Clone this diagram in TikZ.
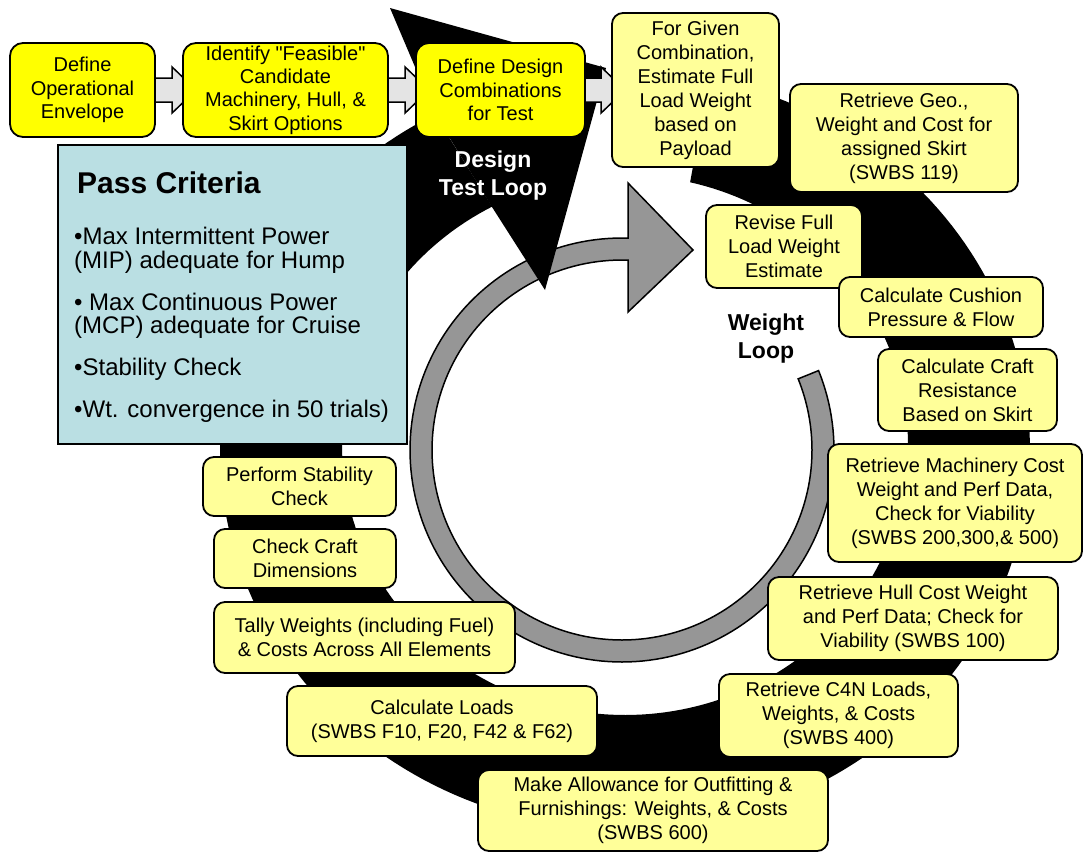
\documentclass[tikz,border=0pt]{standalone}
\usepackage{fontspec}
\setmainfont{Liberation Sans}[Ligatures=TeXOff]
\usetikzlibrary{calc}

\definecolor{brightyellow}{HTML}{FFFF00}
\definecolor{paleyellow}{HTML}{FFFF99}
\definecolor{critblue}{HTML}{BADFE3}
\definecolor{loopgray}{HTML}{969696}
\definecolor{linkgray}{HTML}{E4E4E4}

\pgfdeclarelayer{rings}
\pgfdeclarelayer{links}
\pgfsetlayers{rings,links,main}

\tikzset{
  box/.style={draw=black, line width=1.8pt, rounded corners=11pt, fill=paleyellow,
    align=center, inner sep=0pt, font=\fontsize{20}{24}\selectfont},
  topbox/.style={box, fill=brightyellow, rounded corners=13pt, font=\fontsize{20}{23.3}\selectfont},
  critbox/.style={draw=black, line width=1.8pt, fill=critblue, inner sep=0pt},
  critline/.style={anchor=base west, inner sep=0pt, font=\fontsize{24}{24}\selectfont},
  crittitle/.style={anchor=base west, inner sep=0pt, font=\fontsize{30}{30}\selectfont\bfseries},
  looplabel/.style={anchor=base, inner sep=0pt, font=\fontsize{23}{28}\selectfont\bfseries},
  link/.style={fill=linkgray, draw=black, line width=1.5pt},
}

% block arrow from the east side of one box into the west side of the next
\newcommand\linkarrow[2]{%
  \filldraw[link] ($(#1.east)+(-6,-12)$) -- ($(#2.west)+(-10,-12)$)
    -- ($(#2.west)+(-10,-23)$) -- ($(#2.west)+(14,0)$) -- ($(#2.west)+(-10,23)$)
    -- ($(#2.west)+(-10,12)$) -- ($(#1.east)+(-6,12)$) -- cycle;}

\begin{document}
\begin{tikzpicture}[x=1pt,y=-1pt]
\useasboundingbox (0,0) rectangle (1083,852);

\begin{pgfonlayer}{rings}
  \fill[white] (0,0) rectangle (1083,852);
  % inner grey weight loop with its arrow
  \filldraw[fill=loopgray, draw=black, line width=1.5pt]
    plot[domain=22:-270, samples=160] ({622+212*cos(\x)},{450-212*sin(\x)})
    -- (628,238) -- (628,183) -- (693,250) -- (628,312) -- (628,260)
    -- plot[domain=-270:22, samples=160] ({622+190*cos(\x)},{450-190*sin(\x)})
    -- cycle;
  % outer black design test loop
  \fill[black]
    plot[domain=78:-242, samples=200] ({625+405*cos(\x)},{450-380*sin(\x)})
    -- plot[domain=-242:76.7, samples=200] ({625+283*cos(\x)},{445-270*sin(\x)})
    -- cycle;
  \fill[black] (390,8) -- (606,68) -- (545,290) -- (492,207) -- (435,114) -- cycle;
\end{pgfonlayer}

% loop labels
\node[looplabel, text=white] (dtl1) at (493,167) {Design};
\node[looplabel, text=white] (dtl2) at (493,195) {Test Loop};
\node[looplabel] (wl1) at (766,330) {Weight};
\node[looplabel] (wl2) at (766,358) {Loop};

% top row
\node[topbox, minimum width=145pt, minimum height=94pt] (defop) at (82.5,90) {Define\\Operational\\Envelope};
\node[topbox, minimum width=205pt, minimum height=94pt] (ident) at (285.5,90) {Identify "Feasible"\\Candidate\\Machinery, Hull, \&\\Skirt Options};
\node[topbox, minimum width=169pt, minimum height=94pt] (defdes) at (500.5,90) {Define Design\\Combinations\\for Test};

% pass criteria
\node[critbox, minimum width=349pt, minimum height=299pt] (crit) at (232.5,294.5) {};
\node[crittitle] (ct) at (77,193) {Pass Criteria};
\node[critline] (c1a) at (74,244) {•Max Intermittent Power};
\node[critline] (c1b) at (74,268) {(MIP) adequate for Hump};
\node[critline] (c2a) at (74,310) {• Max Continuous Power};
\node[critline] (c2b) at (74,333) {(MCP) adequate for Cruise};
\node[critline] (c3) at (74,375) {•Stability Check};
\node[critline] (c4) at (74,417) {•Wt. convergence in 50 trials)};

% weight loop steps
\node[box, minimum width=167pt, minimum height=154pt] (payload) at (695.5,90) {For Given\\Combination,\\Estimate Full\\Load Weight\\based on\\Payload};
\node[box, minimum width=228pt, minimum height=108pt] (geo) at (904,138) {Retrieve Geo.,\\Weight and Cost for\\assigned Skirt\\(SWBS 119)};
\node[box, minimum width=156pt, minimum height=83pt] (revise) at (784,246.5) {Revise Full\\Load Weight\\Estimate};
\node[box, minimum width=204pt, minimum height=60pt] (cushion) at (941,307) {Calculate Cushion\\Pressure \& Flow};
\node[box, minimum width=179pt, minimum height=82pt] (craft) at (967.5,390) {Calculate Craft\\Resistance\\Based on Skirt};
\node[box, minimum width=254pt, minimum height=118pt] (mach) at (955,503) {Retrieve Machinery Cost\\Weight and Perf Data,\\Check for Viability\\(SWBS 200,300,\& 500)};
\node[box, minimum width=290pt, minimum height=83pt] (hull) at (913,618.5) {Retrieve Hull Cost Weight\\and Perf Data; Check for\\Viability (SWBS 100)};
\node[box, minimum width=239pt, minimum height=83pt] (c4n) at (838.5,715.5) {Retrieve C4N Loads,\\Weights, \& Costs\\(SWBS 400)};
\node[box, minimum width=350pt, minimum height=81pt] (outfit) at (653,810.5) {Make Allowance for Outfitting \&\\Furnishings: Weights, \& Costs\\(SWBS 600)};
\node[box, minimum width=310pt, minimum height=70pt] (loads) at (442,721) {Calculate Loads\\(SWBS F10, F20, F42 \& F62)};
\node[box, minimum width=301pt, minimum height=71pt] (tally) at (364.5,637.5) {Tally Weights (including Fuel)\\\& Costs Across All Elements};
\node[box, minimum width=182pt, minimum height=59pt] (checkcraft) at (305,558.5) {Check Craft\\Dimensions};
\node[box, minimum width=193pt, minimum height=59pt] (stability) at (299.5,486.5) {Perform Stability\\Check};

\begin{pgfonlayer}{links}
  \linkarrow{defop}{ident}
  \linkarrow{ident}{defdes}
  \linkarrow{defdes}{payload}
\end{pgfonlayer}
\end{tikzpicture}
\end{document}
